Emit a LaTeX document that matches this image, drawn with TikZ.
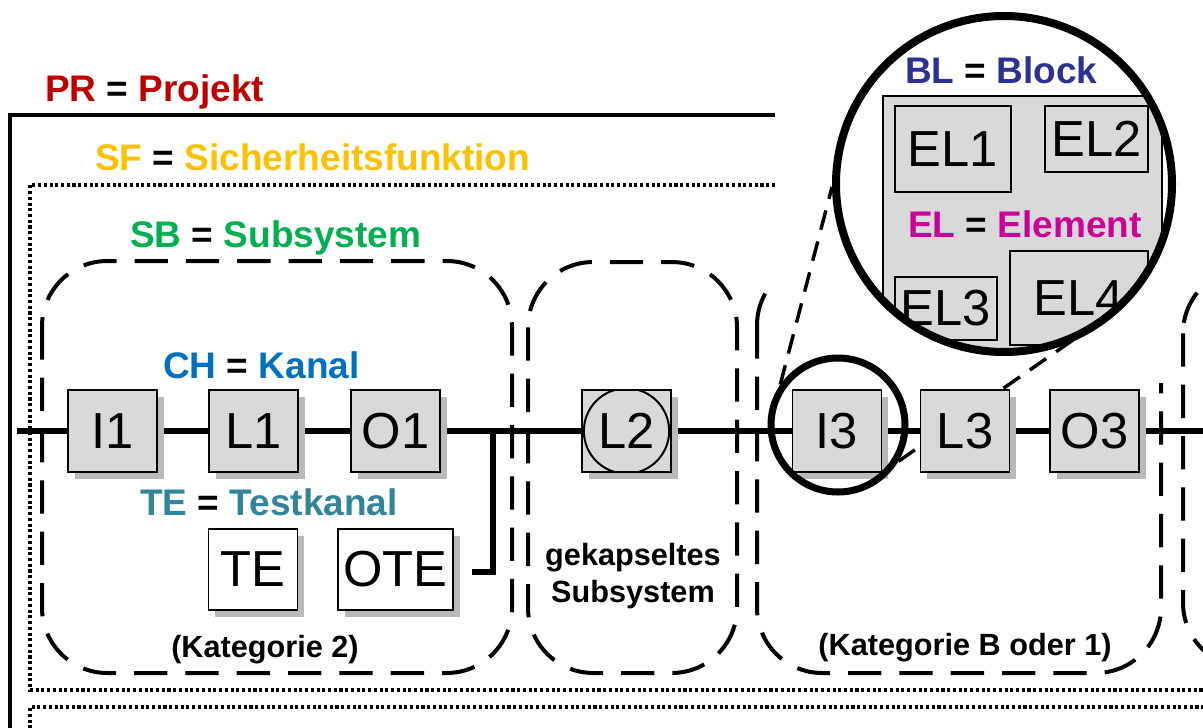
\documentclass[tikz,border=0pt]{standalone}
\usepackage{fontspec}
\setmainfont{Liberation Sans}
\usepackage{tikz}
\usetikzlibrary{shadows, backgrounds}
\definecolor{ProjRed}{RGB}{192, 0, 0}
\definecolor{FuncGold}{RGB}{255, 192, 0}
\definecolor{SubGreen}{RGB}{0, 176, 80}
\definecolor{ChanBlue}{RGB}{0, 112, 192}
\definecolor{TestTeal}{RGB}{49, 133, 155}
\definecolor{BlockIndigo}{RGB}{46, 49, 146}
\definecolor{ElemMagenta}{RGB}{204, 0, 153}
\definecolor{BoxGray}{RGB}{217, 217, 217}
\definecolor{ShadowGray}{RGB}{185, 185, 185}

\begin{document}
\begin{tikzpicture}[x=0.75pt, y=-0.75pt,
    unit/.style={draw, line width=1.1pt, fill=BoxGray, minimum width=66.75pt, minimum height=61.5pt, inner sep=0pt,
      font=\fontsize{38}{40}\selectfont, drop shadow={shadow xshift=5pt, shadow yshift=-5pt, fill=ShadowGray, opacity=1}},
    testunit/.style={unit, fill=white, minimum height=60.75pt},
    elem/.style={draw, line width=1.1pt, fill=BoxGray, inner sep=0pt, font=\fontsize{38}{40}\selectfont},
    legend/.style={anchor=base west, inner sep=0pt, font=\fontsize{27.75}{30}\selectfont\bfseries},
    note/.style={inner sep=0pt, font=\fontsize{23}{27.75}\selectfont\bfseries, align=center},
    subsys/.style={line width=3pt, dash pattern=on 25pt off 13.5pt, rounded corners=49pt},
    sfline/.style={line width=2.6pt, dash pattern=on 2.3pt off 2pt},
    prline/.style={line width=3pt},
    chanline/.style={line width=4pt},
    zoomline/.style={line width=2.6pt, dash pattern=on 15pt off 9pt},
    lens/.style={circle, draw, inner sep=0pt}]
    \useasboundingbox (0,0) rectangle (1203,728);

    % Project and safety function frames
    \draw[prline] (775,115) -- (10,115) -- (10,740);
    \draw[sfline] (775,185) -- (30,185) -- (30,690) -- (1210,690);
    \draw[sfline] (1210,707) -- (30,707) -- (30,740);

    % Subsystems
    \draw[subsys] (42,261) rectangle (512,673);
    \draw[subsys] (528,262) rectangle (737,673);
    \begin{scope}
      \clip (740,240) -- (770,240) -- (770,383) -- (1175,383) -- (1175,700) -- (740,700) -- cycle;
      \draw[subsys] (757,260) rectangle (1161,673);
    \end{scope}
    \draw[subsys] (1183,268) rectangle (1400,668);

    % Legends
    \node[legend] (pr) at (45,101) {\textcolor{ProjRed}{PR} = \textcolor{ProjRed}{Projekt}};
    \node[legend] (sf) at (95,170) {\textcolor{FuncGold}{SF} = \textcolor{FuncGold}{Sicherheitsfunktion}};
    \node[legend] (sb) at (130,247) {\textcolor{SubGreen}{SB} = \textcolor{SubGreen}{Subsystem}};
    \node[legend] (ch) at (163,378) {\textcolor{ChanBlue}{CH} = \textcolor{ChanBlue}{Kanal}};
    \node[legend] (te) at (140,515) {\textcolor{TestTeal}{TE} = \textcolor{TestTeal}{Testkanal}};
    \node[note, anchor=base] (kat2) at (265,657) {(Kategorie 2)};
    \node[note] (gek) at (633,576) {gekapseltes\\Subsystem};
    \node[note, anchor=base] (katb) at (965,655) {(Kategorie B oder 1)};

    % Channel units
    \node[unit] (I1) at (112.5,431) {I1};
    \node[unit] (L1) at (253.5,431) {L1};
    \node[unit] (O1) at (395.5,431) {O1};
    \node[unit, path picture={\draw[line width=1.5pt] (path picture bounding box.center) circle[radius=32pt];}] (L2) at (626.5,431) {L2};
    \node[unit] (I3) at (837,431) {I3};
    \node[unit] (L3) at (965,431) {L3};
    \node[unit] (O3) at (1094.5,431) {O3};
    \node[testunit] (TE) at (253,569.5) {TE};
    \node[testunit, minimum width=86.25pt] (OTE) at (395.5,569.5) {OTE};

    % Zoom on I3
    \node[lens, line width=5.25pt, minimum size=100.5pt] (zs) at (838,425) {};
    \begin{scope}
      \clip (1004,184) circle[radius=126pt];
      \fill[white] (1004,184) circle[radius=126pt];
      \draw[line width=1.1pt, fill=BoxGray] (883,96) rectangle (1162,420);
      \node[elem, minimum width=87pt, minimum height=64.5pt] (EL1) at (953,149) {EL1};
      \node[elem, minimum width=77.25pt, minimum height=49.5pt] (EL2) at (1096.5,139) {EL2};
      \node[elem, minimum width=76.5pt, minimum height=47.25pt] (EL3) at (946,308.5) {EL3};
      \node[elem, minimum width=103.5pt, minimum height=70.5pt] (EL4) at (1079,298) {EL4};
      \node[legend] (bl) at (905,83) {\textcolor{BlockIndigo}{BL} = \textcolor{BlockIndigo}{Block}};
      \node[legend] (el) at (908,237) {\textcolor{ElemMagenta}{EL} = \textcolor{ElemMagenta}{Element}};
    \end{scope}
    \node[lens, line width=6pt, minimum size=252pt] (zb) at (1004,184) {};

    \coordinate (chin) at (17,431);
    \coordinate (chout) at (1210,431);
    \coordinate (tap) at (493,431);
    \coordinate (tapdown) at (493,572);
    \coordinate (tapend) at (472,572);
    \begin{scope}[on background layer]
      \draw[chanline] (chin) -- (I1) -- (L1) -- (O1) -- (L2) -- (I3) -- (L3) -- (O3) -- (chout);
      \draw[chanline] (tap) -- (tapdown) -- (tapend);
      \draw[zoomline] (zs.145) -- (zb.181);
      \draw[zoomline] (zs.-31) -- (zb.-42);
    \end{scope}
  \end{tikzpicture}
\end{document}
